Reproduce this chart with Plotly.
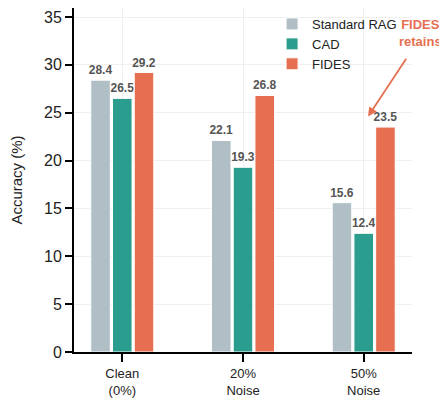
import plotly.graph_objects as go

categories = ["Clean<br>(0%)", "20%<br>Noise", "50%<br>Noise"]
series_names = ["Standard RAG", "CAD", "FIDES"]
standard_rag = [28.4, 22.1, 15.6]
cad = [26.5, 19.3, 12.4]
fides = [29.2, 26.8, 23.5]
colors = ["#B0BEC5", "#2A9D8F", "#E76F51"]

fig = go.Figure()
for name, vals, col in zip(series_names, [standard_rag, cad, fides], colors):
    fig.add_trace(go.Bar(
        x=categories, y=vals, name=name,
        marker=dict(color=col, line=dict(color="white", width=1)),
        text=[f"{v:.1f}" for v in vals], textposition="outside",
        constraintext="none",
        textfont=dict(family="Liberation Sans", size=12, color="#555555", weight="bold"),
        cliponaxis=False,
    ))

fig.update_layout(
    width=439, height=394,
    margin=dict(l=66, r=35, t=0, b=50, autoexpand=False),
    barmode="group", bargap=0.46, bargroupgap=0.1,
    plot_bgcolor="white", paper_bgcolor="white",
    font=dict(family="Liberation Sans", color="#222222"),
    showlegend=True,
    legend=dict(x=0.586, y=0.997, xanchor="left", yanchor="top",
                bgcolor="rgba(255,255,255,0)", font=dict(size=13, color="#222222"),
                tracegroupgap=0),
)
fig.update_xaxes(
    type="category", range=[-0.4, 2.4], automargin=False,
    showline=True, linecolor="black", linewidth=2,
    ticks="outside", ticklen=8, tickwidth=2, tickcolor="black",
    showgrid=True, gridcolor="#EFEFEF", gridwidth=1,
    tickfont=dict(size=13, color="#222222"),
)
fig.update_yaxes(
    range=[0, 35.94], dtick=5, automargin=False,
    showline=True, linecolor="black", linewidth=2,
    ticks="outside", ticklen=7, tickwidth=1.5, tickcolor="black",
    showgrid=True, gridcolor="#EFEFEF", gridwidth=1,
    zeroline=False,
    tickfont=dict(size=16, color="#222222"),
    title=dict(text="Accuracy (%)", font=dict(size=15, color="#222222"), standoff=20),
)
fig.add_annotation(
    x=2.036, y=24.6, xref="x", yref="y",
    ax=2.36, ay=30.8, axref="x", ayref="y",
    text="", showarrow=True, arrowhead=2, arrowsize=1, arrowwidth=1.8, arrowcolor="#E76F51",
)
fig.add_annotation(
    x=1.024, y=0.927, xref="paper", yref="paper", xanchor="center", yanchor="middle",
    text="FIDES<br>retains", showarrow=False, align="center",
    font=dict(size=13, color="#E76F51", weight="bold", family="Liberation Sans"),
)
fig.write_html("out.html")
